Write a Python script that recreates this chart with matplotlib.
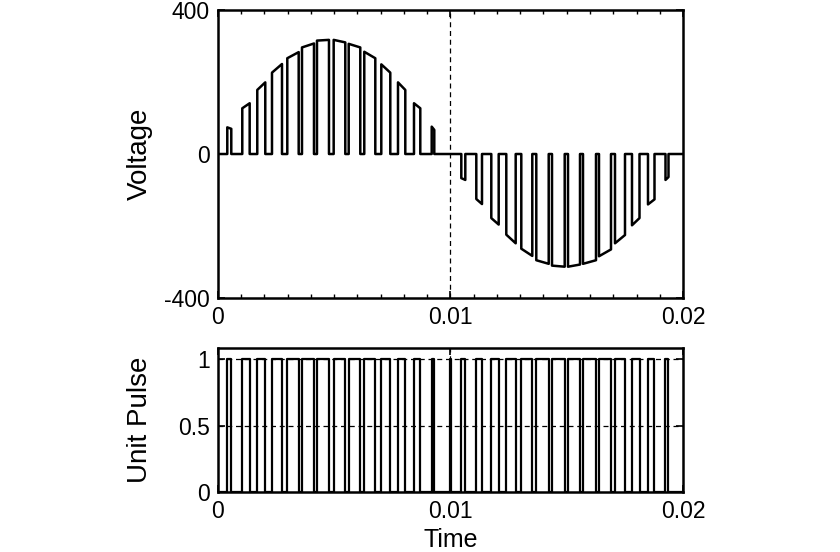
import numpy as np
import matplotlib.pyplot as plt
from matplotlib.ticker import MultipleLocator

plt.rcParams['font.family'] = ['Liberation Sans', 'DejaVu Sans']

# pulse on / off times (s) and the voltage at the start / end of each pulse
t_on = [0.000400, 0.001045, 0.001690, 0.002323, 0.002981, 0.003613, 0.004258,
        0.004976, 0.005622, 0.006292, 0.007024, 0.007742, 0.008430, 0.009192,
        0.010465, 0.011110, 0.011755, 0.012400, 0.013045, 0.013690, 0.014366,
        0.015054, 0.015699, 0.016387, 0.017075, 0.017806, 0.018494, 0.019247]
t_off = [0.000572, 0.001363, 0.002034, 0.002753, 0.003471, 0.004129, 0.004774,
         0.005475, 0.006120, 0.006766, 0.007411, 0.008056, 0.008701, 0.009303,
         0.010637, 0.011355, 0.012073, 0.012804, 0.013518, 0.014224, 0.014912,
         0.015570, 0.016258, 0.016903, 0.017505, 0.018129, 0.018774, 0.019376]
v_on = [74, 127, 178, 226, 266, 296, 315,
        317, 306, 284, 249, 199, 141, 76,
        -67, -125, -178, -224, -263, -295, -310,
        -313, -305, -284, -248, -198, -140, -72]
v_off = [70, 141, 199, 250, 283, 307, 317,
         310, 296, 266, 226, 178, 127, 67,
         -72, -139, -196, -248, -283, -305, -313,
         -307, -295, -265, -225, -178, -126, -64]

# extra narrow unit pulse at the zero crossing
zc_on, zc_off = 0.00999, 0.01001

# build the waveforms
tv, vv = [0.0], [0.0]
tp, pp = [0.0], [0.0]
for a, b, va, vb in zip(t_on, t_off, v_on, v_off):
    tv += [a, a, b, b]
    vv += [0, va, vb, 0]
for a, b in sorted(list(zip(t_on, t_off)) + [(zc_on, zc_off)]):
    tp += [a, a, b, b]
    pp += [0, 1, 1, 0]
tv.append(0.02); vv.append(0.0)
tp.append(0.02); pp.append(0.0)

fig = plt.figure(figsize=(8.4, 5.52), dpi=100)
ax1 = fig.add_axes([0.2595, 0.4601, 0.5536, 0.5218])
ax2 = fig.add_axes([0.2595, 0.1087, 0.5536, 0.2609])

grid_kw = dict(color='black', linestyle=(0, (4, 3)), linewidth=0.9)

# top: voltage
ax1.plot(tv, vv, color='black', linewidth=1.8, zorder=3)
ax1.set_xlim(0, 0.02)
ax1.set_ylim(-400, 400)
ax1.set_xticks([0, 0.01, 0.02])
ax1.set_xticklabels(['0', '0.01', '0.02'])
ax1.set_yticks([-400, 0, 400])
ax1.set_yticklabels(['-400', '0', '400'])
ax1.xaxis.set_minor_locator(MultipleLocator(0.001))
ax1.axvline(0.01, **grid_kw)
ax1.set_ylabel('Voltage', fontsize=20)
ax1.yaxis.set_label_coords(-0.14, 0.5)

# bottom: unit pulse
ax2.plot(tp, pp, color='black', linewidth=1.6, zorder=3)
ax2.set_xlim(0, 0.02)
ax2.set_ylim(0, 1.086)
ax2.set_xticks([0, 0.01, 0.02])
ax2.set_xticklabels(['0', '0.01', '0.02'])
ax2.set_yticks([0, 0.5, 1])
ax2.set_yticklabels(['0', '0.5', '1'])
ax2.axvline(0.01, **grid_kw)
ax2.axhline(0.5, **grid_kw)
ax2.axhline(1.0, **grid_kw)
ax2.set_ylabel('Unit Pulse', fontsize=20)
ax2.yaxis.set_label_coords(-0.14, 0.5)
ax2.set_xlabel('Time', fontsize=18)
ax2.xaxis.set_label_coords(0.5, -0.25)

for ax in (ax1, ax2):
    for s in ax.spines.values():
        s.set_linewidth(1.8)
    ax.tick_params(which='major', direction='in', length=5, width=1.2,
                   top=True, right=True, labelsize=16.5, pad=6)
    ax.tick_params(which='minor', direction='in', length=3, width=1,
                   top=True, bottom=True)

fig.savefig('out.png', dpi=100, facecolor='white')
